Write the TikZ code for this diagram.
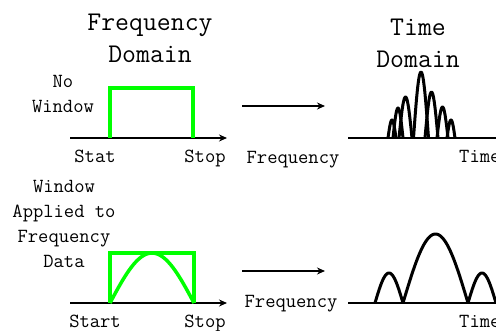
\documentclass[tikz,border=0pt]{standalone}
\usepackage{xcolor}
\definecolor{cWin}{HTML}{00FF00}
\usepackage{tikz}
\usetikzlibrary{arrows.meta}
\tikzset{
  axis-line/.style={line width=2.6pt,-{Stealth[length=8pt,width=7pt]}},
  axis-plain/.style={line width=2.6pt},
  arrow/.style={line width=2.6pt,-{Stealth[length=8pt,width=7pt]}},
  win-line/.style={draw=cWin,line width=3.5pt},
  lobe/.style={line width=3pt,line join=round},
  title-text/.style={font=\ttfamily\fontsize{27}{32}\selectfont,align=center,inner sep=0pt},
  label-text/.style={font=\ttfamily\fontsize{20}{25}\selectfont,align=center,inner sep=0pt},
}
\begin{document}
\begin{tikzpicture}[x=1pt,y=-1pt]
  \useasboundingbox (0,0) rectangle (496,331);
  \clip (0,0) rectangle (496,331);
  % titles
  \node[title-text,anchor=base] (fd-title) at (150,63) {Frequency\\Domain};
  \node[title-text,anchor=base] (td-title) at (418,68) {Time\\Domain};
  % side labels
  \node[label-text,anchor=base] (nowin) at (63,113) {No\\Window};
  \node[label-text,anchor=base] (win) at (64,268) {Window\\Applied to\\Frequency\\Data};
  % frequency axes
  \coordinate (f1-0) at (70,138);  \coordinate (f1-1) at (227,138);
  \coordinate (f2-0) at (70,303);  \coordinate (f2-1) at (227,303);
  \draw[axis-line] (f1-0) -- (f1-1);
  \draw[axis-line] (f2-0) -- (f2-1);
  \node[label-text,anchor=base] (start1) at (95,163) {Stat};
  \node[label-text,anchor=base] (stop1) at (205,163) {Stop};
  \node[label-text,anchor=base] (start2) at (95,328) {Start};
  \node[label-text,anchor=base] (stop2) at (205,328) {Stop};
  % windows
  \draw[win-line] (110,138) -- (110,88) -- (193,88) -- (193,138);
  \draw[win-line] (110,303) -- (110,253) -- (194,253) -- (194,303);
  \draw[win-line] plot[domain=0:180,samples=41] ({110+84*\x/180},{303-50*sin(\x)});
  % transform arrows
  \coordinate (a1-0) at (242,106); \coordinate (a1-1) at (325,106);
  \coordinate (a2-0) at (242,271); \coordinate (a2-1) at (325,271);
  \draw[arrow] (a1-0) -- (a1-1);
  \draw[arrow] (a2-0) -- (a2-1);
  \node[label-text,anchor=base] (freq1) at (293,164) {Frequency};
  \node[label-text,anchor=base] (freq2) at (291,308) {Frequency};
  % time axes
  \coordinate (t1-0) at (348,138); \coordinate (t1-1) at (500,138);
  \coordinate (t2-0) at (348,303); \coordinate (t2-1) at (500,303);
  \draw[axis-plain] (t1-0) -- (t1-1);
  \draw[axis-plain] (t2-0) -- (t2-1);
  \node[label-text,anchor=base west] (time1) at (459,163) {Time};
  \node[label-text,anchor=base west] (time2) at (459,328) {Time};
  % lobes
  \foreach \c/\w/\h in {392/8/18,398/10/30,405.5/13/41,421/15/66,%
      431.5/13/46,442.5/11/31,451/8/18}
    \draw[lobe] plot[domain=0:180,samples=25] ({\c-\w/2+\w*\x/180},{138-\h*sin(\x)});
  \foreach \c/\w/\h in {389/28/30,435.5/65/69,482/28/30}
    \draw[lobe] plot[domain=0:180,samples=41] ({\c-\w/2+\w*\x/180},{303-\h*sin(\x)});
\end{tikzpicture}
\end{document}
